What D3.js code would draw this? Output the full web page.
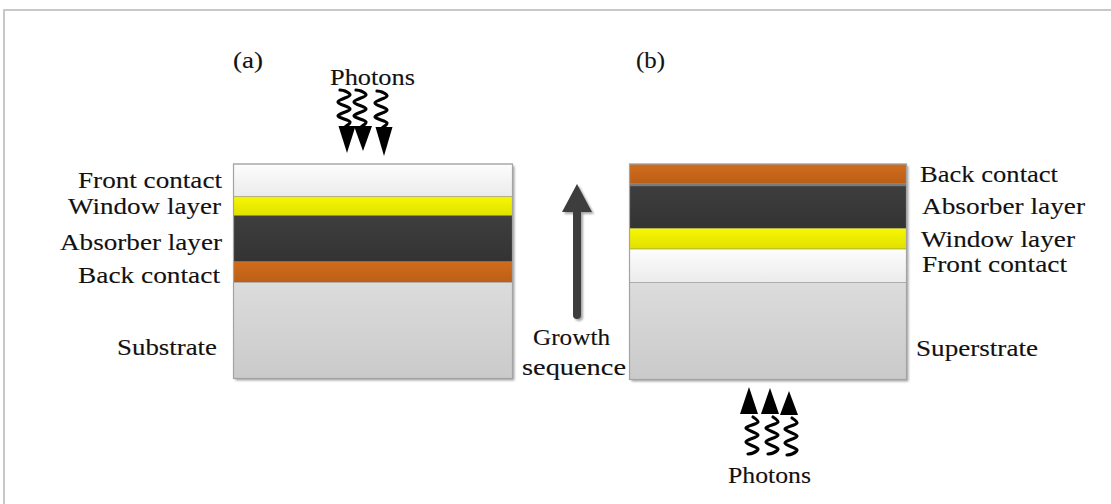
<!DOCTYPE html>
<html><head><meta charset="utf-8">
<script src="https://cdn.jsdelivr.net/npm/d3@7/dist/d3.min.js"></script>
<style>html,body{margin:0;padding:0;background:#fff;}svg{display:block;}</style>
</head><body>
<script>
// ---- data ----
const leftLayers = ["Front contact", "Window layer", "Absorber layer", "Back contact", "Substrate"];
const leftThickness = [32.7, 19, 46, 20.6, 96.2];
const rightLayers = ["Back contact", "Interface", "Absorber layer", "Window layer", "Front contact", "Superstrate"];
const rightThickness = [19.3, 2.7, 42.3, 20.7, 33.3, 97];
const panelLabels = ["(a)", "(b)"];
const arrowText = ["Growth", "sequence"];
const photonText = "Photons";

// ---- styles ----
const fills = {
  "Front contact": ["#fdfdfd", "#ebebeb"],
  "Window layer": ["#f7f700", "#e0e000"],
  "Absorber layer": ["#3e3e3e", "#333333"],
  "Back contact": ["#cf6c1d", "#bd5f17"],
  "Substrate": ["#dcdcdc", "#cacaca"],
  "Superstrate": ["#dcdcdc", "#cacaca"],
  "Interface": ["#7c7c7c", "#7c7c7c"]
};
const FONT = "'Liberation Serif','Times New Roman',serif";

const W = 1111, H = 504;
const svg = d3.select("body").append("svg").attr("width", W).attr("height", H);
const defs = svg.append("defs");
Object.entries(fills).forEach(([k, c], i) => {
  const g = defs.append("linearGradient").attr("id", "g" + i).attr("x1", 0).attr("y1", 0).attr("x2", 0).attr("y2", 1);
  g.append("stop").attr("offset", "0%").attr("stop-color", c[0]);
  g.append("stop").attr("offset", "100%").attr("stop-color", c[1]);
  fills[k].id = "g" + i;
});
const sh = defs.append("filter").attr("id", "shadow").attr("x", "-10%").attr("y", "-10%").attr("width", "130%").attr("height", "130%");
sh.append("feGaussianBlur").attr("in", "SourceAlpha").attr("stdDeviation", 1.2).attr("result", "b");
sh.append("feOffset").attr("in", "b").attr("dx", 1.5).attr("dy", 1.5).attr("result", "o");
sh.append("feComponentTransfer").attr("in", "o").attr("result", "o2").append("feFuncA").attr("type", "linear").attr("slope", 0.35);
const mg = sh.append("feMerge"); mg.append("feMergeNode").attr("in", "o2"); mg.append("feMergeNode").attr("in", "SourceGraphic");

// frame
svg.append("path").attr("d", "M4,504 L4,10 L1111,10").attr("fill", "none").attr("stroke", "#c8c8c8").attr("stroke-width", 2);

function stack(names, thick, x0, x1, y0, y1) {
  const total = d3.sum(thick);
  const y = d3.scaleLinear().domain([0, total]).range([y0, y1]);
  const cum = d3.cumsum([0, ...thick]);
  const g = svg.append("g");
  g.append("rect").attr("x", x0).attr("y", y0).attr("width", x1 - x0).attr("height", y1 - y0)
    .attr("fill", "#ccc").attr("filter", "url(#shadow)");
  g.selectAll("rect.l").data(names).join("rect").attr("class", "l")
    .attr("x", x0).attr("width", x1 - x0)
    .attr("y", (d, i) => y(cum[i])).attr("height", (d, i) => y(cum[i + 1]) - y(cum[i]))
    .attr("fill", d => `url(#${fills[d].id})`)
    .attr("stroke", d => d === "Interface" ? "none" : "rgba(120,120,120,0.45)").attr("stroke-width", 0.8);
  g.append("rect").attr("x", x0).attr("y", y0).attr("width", x1 - x0).attr("height", y1 - y0)
    .attr("fill", "none").attr("stroke", "#a3a3a3").attr("stroke-width", 1.2);
}
stack(leftLayers, leftThickness, 233.5, 512.5, 164, 378.5);
stack(rightLayers, rightThickness, 629.5, 906.5, 164, 379.5);

function label(t, x, y, len, size) {
  svg.append("text").text(t).attr("x", x).attr("y", y)
    .attr("font-family", FONT).attr("font-size", size || 24).attr("fill", "#111")
    .attr("stroke", "#111").attr("stroke-width", 0.12)
    .attr("textLength", len).attr("lengthAdjust", "spacingAndGlyphs");
}
const leftLab = [[leftLayers[0], 78, 188, 144], [leftLayers[1], 68, 214, 153], [leftLayers[2], 60, 250, 162], [leftLayers[3], 78, 283, 142], [leftLayers[4], 117, 355, 100]];
leftLab.forEach(d => label(d[0], d[1], d[2], d[3]));
const rightLab = [[rightLayers[0], 920, 182, 138], [rightLayers[2], 922, 214, 163], [rightLayers[3], 921, 247, 154], [rightLayers[4], 922, 272, 145], [rightLayers[5], 916, 356, 122]];
rightLab.forEach(d => label(d[0], d[1], d[2], d[3]));
label(panelLabels[0], 233, 68, 30);
label(panelLabels[1], 636, 68, 29);
label(arrowText[0], 533, 345, 77);
label(arrowText[1], 522, 375, 104);
label(photonText, 330, 85, 85);
label(photonText, 728, 483, 83);

// growth arrow
const ga = svg.append("g").attr("filter", "url(#shadow)");
ga.append("line").attr("x1", 577).attr("x2", 577).attr("y1", 205).attr("y2", 315)
  .attr("stroke", "#3c3c3c").attr("stroke-width", 8).attr("stroke-linecap", "round");
ga.append("path").attr("d", "M577,184 L592,212 L562,212 Z").attr("fill", "#3c3c3c");

// photon arrows
const waveOffsets = [[-4, 0], [1, 1], [6, 5], [-6, 12], [6, 19], [-6, 26], [6, 32], [1, 37]];
const wl = d3.line().curve(d3.curveCatmullRom.alpha(0.5));
function photon(cx, y0, dir, tipX, tipY, baseY, halfW) {
  const pts = waveOffsets.map(([dx, dy]) => [cx + dx, y0 + dir * dy]);
  svg.append("path").attr("d", wl(pts)).attr("fill", "none").attr("stroke", "#000").attr("stroke-width", 3.2).attr("stroke-linecap", "round").attr("stroke-linejoin", "round");
  svg.append("path").attr("d", `M${tipX},${tipY} L${tipX - halfW},${baseY} L${tipX + halfW},${baseY} Z`).attr("fill", "#000");
}
// top (pointing down)
photon(344, 90, 1, 347, 153, 126, 8.5);
photon(360, 90, 1, 363, 151, 126, 9);
photon(381, 91, 1, 384, 156, 127, 8.5);
// bottom (pointing up)
photon(752, 454, -1, 749, 387, 414, 9);
photon(772, 454, -1, 770, 388, 414, 9);
photon(791, 455, -1, 789, 391, 415, 9);
</script>
</body></html>
